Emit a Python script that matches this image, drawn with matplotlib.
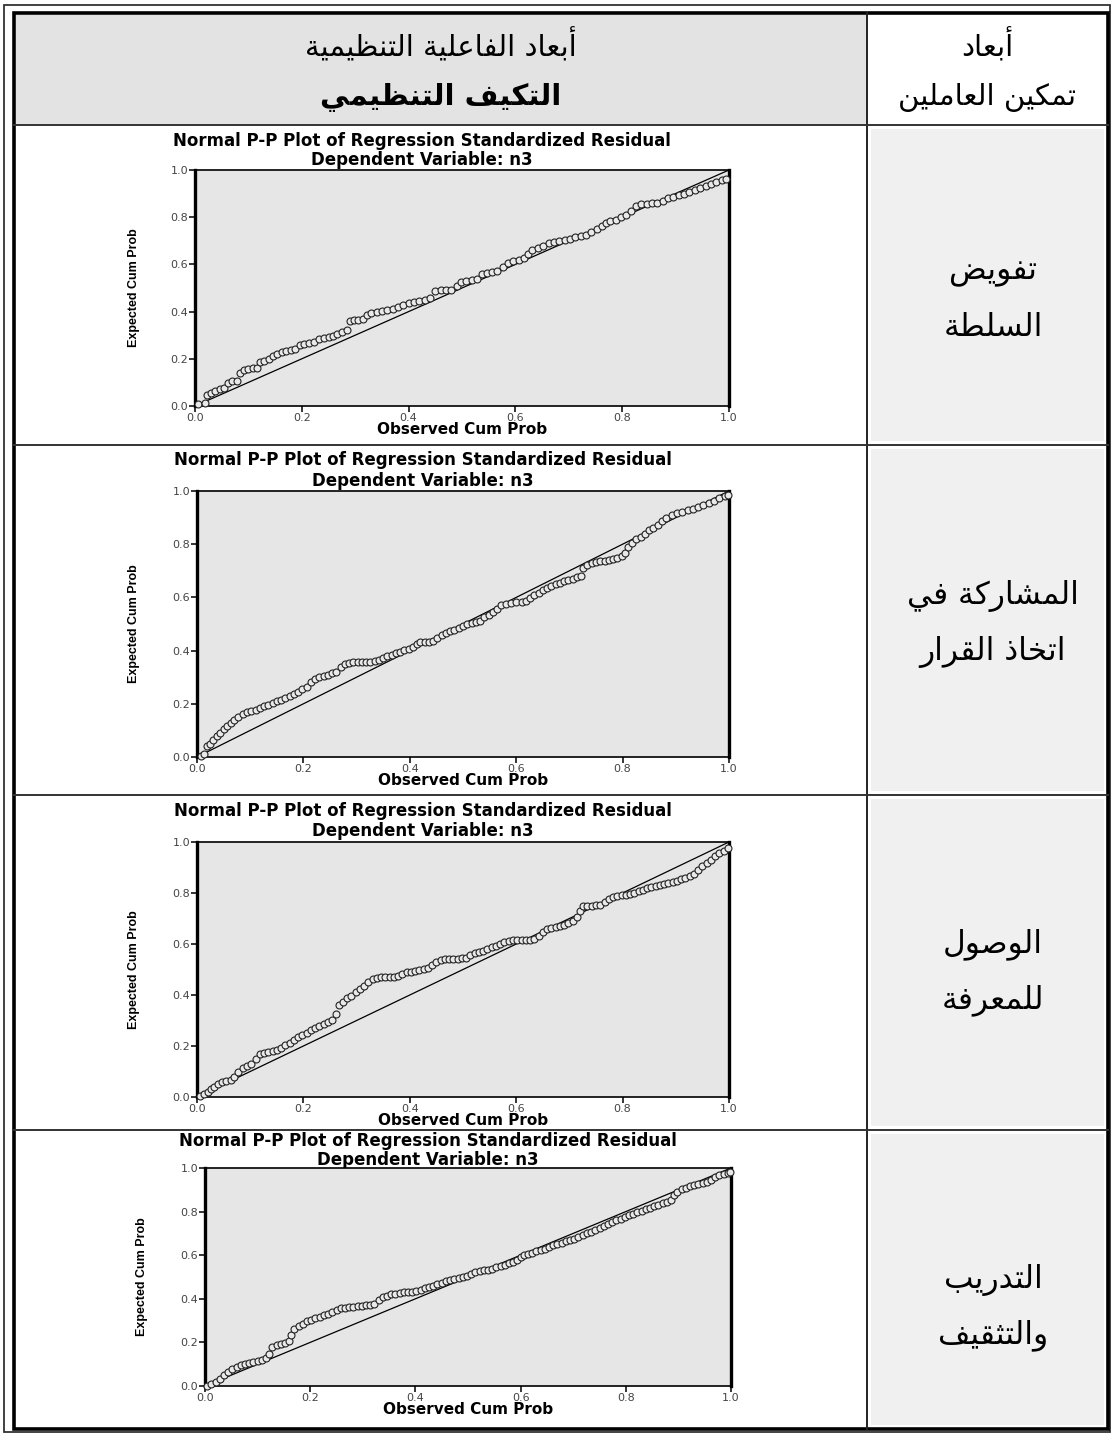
import matplotlib.pyplot as plt
from matplotlib.patches import Rectangle

W, H = 1112, 1433

header_main = "أبعاد الفاعلية التنظيمية"
header_sub = "التكيف التنظيمي"
header_side = ["أبعاد", "تمكين العاملين"]
row_labels = [["تفويض", "السلطة"],
              ["المشاركة في", "اتخاذ القرار"],
              ["الوصول", "للمعرفة"],
              ["التدريب", "والتثقيف"]]

plot_title = "Normal P-P Plot of Regression Standardized Residual"
plot_subtitle = "Dependent Variable: n3"
x_label = "Observed Cum Prob"
y_label = "Expected Cum Prob"
ticks = [0.0, 0.2, 0.4, 0.6, 0.8, 1.0]
tick_labels = ["0.0", "0.2", "0.4", "0.6", "0.8", "1.0"]

# تفويض السلطة
obs1 = [0.006, 0.018, 0.022, 0.030, 0.038, 0.046, 0.055, 0.062, 0.070, 0.078,
        0.085, 0.092, 0.100, 0.108, 0.116, 0.122, 0.130, 0.138, 0.146, 0.154,
        0.162, 0.170, 0.180, 0.188, 0.196, 0.205, 0.214, 0.222, 0.232, 0.241,
        0.250, 0.258, 0.266, 0.276, 0.284, 0.290, 0.298, 0.306, 0.314, 0.322,
        0.330, 0.340, 0.350, 0.360, 0.370, 0.380, 0.390, 0.400, 0.410, 0.420,
        0.430, 0.440, 0.450, 0.460, 0.470, 0.480, 0.490, 0.498, 0.508, 0.518,
        0.528, 0.537, 0.546, 0.556, 0.566, 0.576, 0.586, 0.596, 0.606, 0.616,
        0.624, 0.632, 0.642, 0.652, 0.662, 0.672, 0.682, 0.692, 0.702, 0.712,
        0.722, 0.732, 0.742, 0.752, 0.762, 0.770, 0.778, 0.788, 0.798, 0.808,
        0.816, 0.826, 0.836, 0.846, 0.856, 0.866, 0.876, 0.886, 0.896, 0.906,
        0.916, 0.926, 0.936, 0.946, 0.956, 0.966, 0.976, 0.986, 0.994]
exp1 = [0.007, 0.012, 0.045, 0.055, 0.065, 0.072, 0.078, 0.098, 0.105, 0.108,
        0.140, 0.152, 0.158, 0.160, 0.162, 0.186, 0.192, 0.198, 0.212, 0.222,
        0.230, 0.232, 0.236, 0.240, 0.258, 0.262, 0.266, 0.270, 0.282, 0.288,
        0.292, 0.298, 0.304, 0.312, 0.322, 0.362, 0.364, 0.365, 0.370, 0.385,
        0.395, 0.400, 0.403, 0.406, 0.410, 0.420, 0.430, 0.438, 0.442, 0.446,
        0.450, 0.458, 0.488, 0.492, 0.492, 0.493, 0.510, 0.526, 0.530, 0.534,
        0.540, 0.560, 0.564, 0.566, 0.570, 0.590, 0.608, 0.614, 0.620, 0.626,
        0.645, 0.660, 0.668, 0.680, 0.692, 0.694, 0.698, 0.702, 0.706, 0.714,
        0.722, 0.726, 0.738, 0.750, 0.762, 0.775, 0.786, 0.790, 0.800, 0.808,
        0.826, 0.848, 0.855, 0.858, 0.860, 0.862, 0.870, 0.880, 0.886, 0.892,
        0.900, 0.906, 0.915, 0.925, 0.934, 0.942, 0.950, 0.956, 0.962]

# المشاركة في اتخاذ القرار
obs2 = [0.008, 0.014, 0.018, 0.024, 0.031, 0.038, 0.043, 0.050, 0.056, 0.063,
        0.070, 0.078, 0.086, 0.094, 0.102, 0.110, 0.118, 0.126, 0.134, 0.142,
        0.150, 0.158, 0.166, 0.174, 0.182, 0.190, 0.198, 0.206, 0.214, 0.222,
        0.230, 0.238, 0.246, 0.254, 0.262, 0.270, 0.278, 0.286, 0.294, 0.302,
        0.310, 0.318, 0.326, 0.334, 0.342, 0.350, 0.358, 0.366, 0.374, 0.382,
        0.390, 0.398, 0.406, 0.414, 0.420, 0.428, 0.436, 0.444, 0.452, 0.460,
        0.468, 0.476, 0.484, 0.492, 0.500, 0.508, 0.516, 0.524, 0.532, 0.540,
        0.548, 0.556, 0.564, 0.572, 0.580, 0.590, 0.600, 0.610, 0.618, 0.626,
        0.634, 0.642, 0.650, 0.658, 0.666, 0.674, 0.682, 0.690, 0.698, 0.706,
        0.714, 0.722, 0.726, 0.734, 0.742, 0.750, 0.758, 0.766, 0.774, 0.782,
        0.790, 0.798, 0.804, 0.810, 0.818, 0.826, 0.834, 0.842, 0.850, 0.858,
        0.866, 0.874, 0.882, 0.892, 0.902, 0.912, 0.922, 0.932, 0.942, 0.952,
        0.962, 0.972, 0.982, 0.992, 0.998]
exp2 = [0.005, 0.010, 0.040, 0.050, 0.064, 0.078, 0.092, 0.105, 0.118, 0.128,
        0.140, 0.150, 0.160, 0.168, 0.172, 0.178, 0.184, 0.190, 0.196, 0.204,
        0.210, 0.216, 0.222, 0.230, 0.236, 0.244, 0.254, 0.262, 0.282, 0.292,
        0.300, 0.306, 0.310, 0.314, 0.318, 0.340, 0.348, 0.352, 0.358, 0.359,
        0.359, 0.359, 0.359, 0.360, 0.366, 0.372, 0.378, 0.384, 0.390, 0.396,
        0.402, 0.406, 0.412, 0.424, 0.434, 0.434, 0.434, 0.436, 0.448, 0.458,
        0.466, 0.472, 0.478, 0.484, 0.492, 0.500, 0.504, 0.508, 0.512, 0.525,
        0.535, 0.545, 0.558, 0.570, 0.574, 0.580, 0.584, 0.584, 0.586, 0.598,
        0.608, 0.618, 0.626, 0.634, 0.642, 0.650, 0.656, 0.660, 0.664, 0.670,
        0.676, 0.680, 0.712, 0.722, 0.730, 0.734, 0.736, 0.738, 0.742, 0.746,
        0.750, 0.756, 0.768, 0.790, 0.806, 0.818, 0.828, 0.840, 0.852, 0.862,
        0.874, 0.886, 0.898, 0.910, 0.918, 0.922, 0.928, 0.934, 0.940, 0.946,
        0.954, 0.964, 0.972, 0.980, 0.986]

# الوصول للمعرفة
obs3 = [0.006, 0.014, 0.020, 0.026, 0.032, 0.040, 0.047, 0.055, 0.063, 0.070,
        0.078, 0.086, 0.094, 0.102, 0.110, 0.118, 0.126, 0.134, 0.142, 0.150,
        0.158, 0.166, 0.174, 0.182, 0.190, 0.198, 0.206, 0.214, 0.222, 0.230,
        0.238, 0.246, 0.254, 0.262, 0.266, 0.274, 0.282, 0.290, 0.298, 0.306,
        0.314, 0.322, 0.330, 0.338, 0.346, 0.354, 0.362, 0.370, 0.378, 0.386,
        0.394, 0.402, 0.410, 0.418, 0.426, 0.434, 0.442, 0.450, 0.458, 0.466,
        0.474, 0.482, 0.490, 0.498, 0.506, 0.514, 0.522, 0.530, 0.538, 0.546,
        0.554, 0.562, 0.570, 0.578, 0.586, 0.594, 0.602, 0.610, 0.618, 0.626,
        0.634, 0.642, 0.650, 0.658, 0.666, 0.674, 0.682, 0.690, 0.698, 0.706,
        0.714, 0.720, 0.726, 0.734, 0.742, 0.750, 0.758, 0.766, 0.774, 0.782,
        0.790, 0.798, 0.806, 0.814, 0.822, 0.830, 0.838, 0.846, 0.854, 0.862,
        0.870, 0.878, 0.886, 0.894, 0.902, 0.910, 0.918, 0.926, 0.934, 0.942,
        0.950, 0.958, 0.966, 0.974, 0.982, 0.990, 0.998]
exp3 = [0.005, 0.012, 0.020, 0.030, 0.040, 0.052, 0.060, 0.064, 0.066, 0.080,
        0.100, 0.112, 0.120, 0.130, 0.150, 0.168, 0.174, 0.178, 0.180, 0.184,
        0.192, 0.202, 0.212, 0.224, 0.236, 0.244, 0.252, 0.262, 0.270, 0.278,
        0.286, 0.294, 0.302, 0.324, 0.360, 0.374, 0.388, 0.398, 0.410, 0.424,
        0.436, 0.450, 0.462, 0.468, 0.469, 0.469, 0.469, 0.469, 0.474, 0.484,
        0.490, 0.492, 0.494, 0.498, 0.502, 0.506, 0.516, 0.528, 0.538, 0.542,
        0.543, 0.543, 0.543, 0.544, 0.546, 0.556, 0.564, 0.570, 0.574, 0.580,
        0.588, 0.594, 0.600, 0.606, 0.612, 0.616, 0.616, 0.616, 0.616, 0.616,
        0.618, 0.632, 0.648, 0.660, 0.664, 0.666, 0.670, 0.676, 0.684, 0.692,
        0.706, 0.730, 0.748, 0.750, 0.750, 0.751, 0.754, 0.764, 0.776, 0.786,
        0.790, 0.792, 0.794, 0.796, 0.800, 0.806, 0.812, 0.818, 0.822, 0.826,
        0.830, 0.834, 0.838, 0.842, 0.848, 0.854, 0.860, 0.866, 0.874, 0.890,
        0.906, 0.918, 0.930, 0.944, 0.956, 0.966, 0.976]

# التدريب والتثقيف
obs4 = [0.004, 0.012, 0.020, 0.028, 0.036, 0.044, 0.052, 0.060, 0.068, 0.076,
        0.084, 0.092, 0.100, 0.108, 0.116, 0.122, 0.128, 0.136, 0.144, 0.152,
        0.160, 0.164, 0.170, 0.178, 0.186, 0.194, 0.202, 0.210, 0.218, 0.226,
        0.234, 0.242, 0.250, 0.258, 0.266, 0.274, 0.282, 0.290, 0.298, 0.306,
        0.314, 0.322, 0.330, 0.338, 0.346, 0.354, 0.362, 0.370, 0.378, 0.386,
        0.394, 0.402, 0.410, 0.418, 0.426, 0.434, 0.442, 0.450, 0.458, 0.466,
        0.474, 0.482, 0.490, 0.498, 0.506, 0.514, 0.522, 0.530, 0.538, 0.546,
        0.554, 0.562, 0.570, 0.578, 0.586, 0.594, 0.600, 0.606, 0.614, 0.622,
        0.630, 0.638, 0.646, 0.654, 0.662, 0.670, 0.678, 0.686, 0.694, 0.702,
        0.710, 0.718, 0.726, 0.734, 0.742, 0.750, 0.758, 0.766, 0.774, 0.782,
        0.790, 0.798, 0.806, 0.814, 0.822, 0.830, 0.838, 0.846, 0.854, 0.862,
        0.870, 0.878, 0.886, 0.892, 0.898, 0.906, 0.914, 0.922, 0.930, 0.938,
        0.946, 0.954, 0.962, 0.970, 0.978, 0.986, 0.994, 0.998]
exp4 = [0.002, 0.010, 0.020, 0.034, 0.050, 0.062, 0.078, 0.088, 0.096, 0.102,
        0.106, 0.110, 0.114, 0.118, 0.128, 0.146, 0.180, 0.188, 0.192, 0.196,
        0.206, 0.234, 0.262, 0.274, 0.284, 0.296, 0.304, 0.312, 0.318, 0.324,
        0.332, 0.340, 0.350, 0.356, 0.360, 0.362, 0.364, 0.366, 0.368, 0.370,
        0.372, 0.376, 0.396, 0.406, 0.414, 0.420, 0.424, 0.428, 0.430, 0.431,
        0.432, 0.436, 0.442, 0.448, 0.454, 0.460, 0.466, 0.474, 0.480, 0.486,
        0.490, 0.494, 0.500, 0.506, 0.514, 0.522, 0.526, 0.530, 0.534, 0.538,
        0.544, 0.550, 0.556, 0.562, 0.568, 0.576, 0.590, 0.600, 0.606, 0.612,
        0.618, 0.624, 0.630, 0.638, 0.646, 0.652, 0.658, 0.664, 0.670, 0.676,
        0.684, 0.692, 0.700, 0.708, 0.716, 0.724, 0.734, 0.744, 0.752, 0.760,
        0.768, 0.776, 0.784, 0.790, 0.798, 0.804, 0.810, 0.818, 0.826, 0.832,
        0.838, 0.844, 0.852, 0.876, 0.892, 0.902, 0.910, 0.918, 0.922, 0.926,
        0.930, 0.936, 0.946, 0.958, 0.966, 0.972, 0.978, 0.982]

all_obs = [obs1, obs2, obs3, obs4]
all_exp = [exp1, exp2, exp3, exp4]


# matplotlib has no arabic shaping, so pick presentation forms by hand
dual = {'ب': 0xFE8F, 'ت': 0xFE95, 'ث': 0xFE99, 'ج': 0xFE9D, 'ح': 0xFEA1,
        'خ': 0xFEA5, 'س': 0xFEB1, 'ش': 0xFEB5, 'ص': 0xFEB9, 'ض': 0xFEBD,
        'ط': 0xFEC1, 'ظ': 0xFEC5, 'ع': 0xFEC9, 'غ': 0xFECD, 'ف': 0xFED1,
        'ق': 0xFED5, 'ك': 0xFED9, 'ل': 0xFEDD, 'م': 0xFEE1, 'ن': 0xFEE5,
        'ه': 0xFEE9, 'ي': 0xFEF1}
right = {'ا': 0xFE8D, 'أ': 0xFE83, 'إ': 0xFE87, 'د': 0xFEA9, 'ذ': 0xFEAB,
         'ر': 0xFEAD, 'ز': 0xFEAF, 'و': 0xFEED, 'ة': 0xFE93, 'ى': 0xFEEF}


def shape(text):
    out = []
    for i, ch in enumerate(text):
        prev = text[i - 1] if i > 0 else ''
        nxt = text[i + 1] if i + 1 < len(text) else ''
        join_prev = prev in dual
        if ch in right:
            out.append(chr(right[ch] + (1 if join_prev else 0)))
        elif ch in dual:
            join_next = nxt in dual or nxt in right
            if join_prev and join_next:
                off = 3
            elif join_prev:
                off = 1
            elif join_next:
                off = 2
            else:
                off = 0
            out.append(chr(dual[ch] + off))
        else:
            out.append(ch)
    return ''.join(reversed(out))


fig = plt.figure(figsize=(W / 100, H / 100), dpi=100)

# background axes in pixel units for the table
bg = fig.add_axes([0, 0, 1, 1])
bg.set_xlim(0, W)
bg.set_ylim(H, 0)
bg.axis('off')

rows = [125, 445, 795, 1130, 1429]
col = 867

bg.add_patch(Rectangle((16, 15), col - 17, rows[0] - 16, fc='#e3e3e3', ec='none'))
for i in range(4):
    y0, y1 = rows[i], rows[i + 1]
    bg.add_patch(Rectangle((col + 4, y0 + 4), 1106 - col - 6, y1 - y0 - 8,
                           fc='#f0f0f0', ec='none'))

bg.add_patch(Rectangle((4, 5), 1106, 1427, fill=False, ec='#333333', lw=1.3))
bg.add_patch(Rectangle((14, 13), 1094, 1416, fill=False, ec='black', lw=2.6))
bg.plot([col, col], [13, 1429], color='#222222', lw=1.4)
for y in rows[:-1]:
    bg.plot([14, 1108], [y, y], color='#333333', lw=1.4)

bg.text(441, 45, shape(header_main), ha='center', va='center',
        fontsize=21, family='DejaVu Sans')
bg.text(441, 97, shape(header_sub), ha='center', va='center',
        fontsize=21, fontweight='bold', family='DejaVu Sans')
bg.text(987, 45, shape(header_side[0]), ha='center', va='center',
        fontsize=21, family='DejaVu Sans')
bg.text(987, 97, shape(header_side[1]), ha='center', va='center',
        fontsize=21, family='DejaVu Sans')

label_y = [(272, 327), (596, 652), (944, 1000), (1280, 1335)]
for lines, ys in zip(row_labels, label_y):
    for txt, y in zip(lines, ys):
        bg.text(993, y, shape(txt), ha='center', va='center',
                fontsize=22.5, family='DejaVu Sans')

# plot boxes: left, top, right, bottom in pixels, and title rows
boxes = [(195, 170, 729, 406), (197, 491, 729, 757),
         (197, 842, 729, 1097), (205, 1168, 731, 1386)]
title_y = [(141, 160), (460, 481), (811, 831), (1141, 1160)]
ylab_x = [140, 140, 140, 148]

for k in range(4):
    l, t, r, b = boxes[k]
    ax = fig.add_axes([l / W, 1 - b / H, (r - l) / W, (b - t) / H])
    ax.set_facecolor('#e6e6e6')
    ax.plot([0, 1], [0, 1], color='black', lw=0.9)
    ax.plot(all_obs[k], all_exp[k], 'o', ms=5, mfc='#e9e9e9', mec='#222222',
            mew=0.8, clip_on=False, zorder=3)
    ax.set_xlim(0, 1)
    ax.set_ylim(0, 1)
    ax.set_xticks(ticks)
    ax.set_xticklabels(tick_labels)
    ax.set_yticks(ticks)
    ax.set_yticklabels(tick_labels)
    ax.tick_params(direction='out', length=4, width=1.1, labelsize=8,
                   labelcolor='#444444', pad=1)
    for s in ['left', 'right']:
        ax.spines[s].set_linewidth(2.4)
    for s in ['top', 'bottom']:
        ax.spines[s].set_linewidth(1.2)
    ax.set_xlabel(x_label, fontsize=11, fontweight='bold')
    ax.xaxis.set_label_coords(0.5, -16 / (b - t))
    ax.set_ylabel(y_label, fontsize=9, fontweight='bold',
                  family='Liberation Sans')
    ax.yaxis.set_label_coords((ylab_x[k] - l) / (r - l), 0.5)

    cx = (l + r) / 2 - 40
    bg.text(cx, title_y[k][0], plot_title, ha='center', va='center',
            fontsize=12, fontweight='bold')
    bg.text(cx, title_y[k][1], plot_subtitle, ha='center', va='center',
            fontsize=12, fontweight='bold')

fig.savefig('out.png', dpi=100)
